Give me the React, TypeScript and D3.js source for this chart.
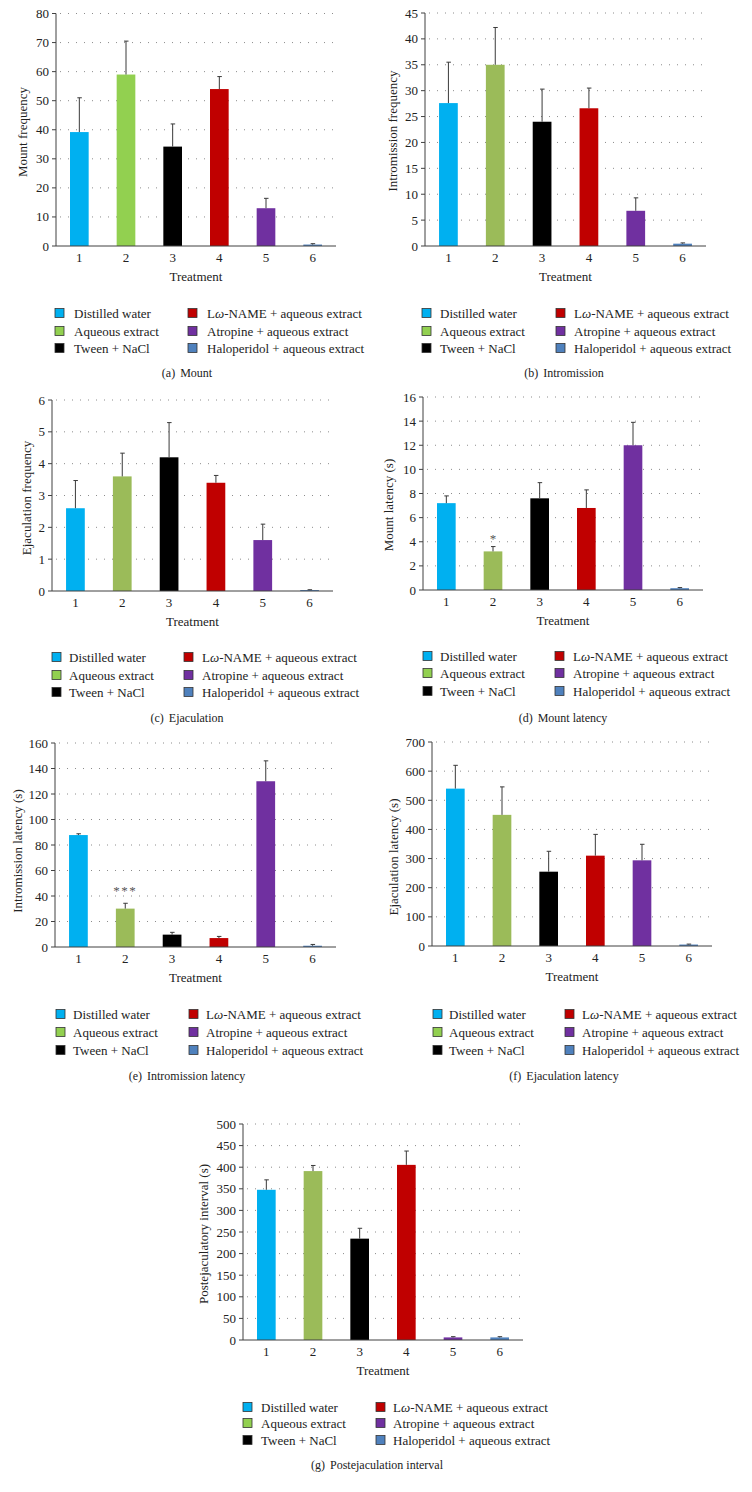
import React from "react";
import * as d3 from "d3";

// ---------- DATA ----------
const treatments = ["1", "2", "3", "4", "5", "6"];
const groups = [
  "Distilled water",
  "Aqueous extract",
  "Tween + NaCl",
  "Lω-NAME + aqueous extract",
  "Atropine + aqueous extract",
  "Haloperidol + aqueous extract",
];

const mountFreq = [39.2, 59, 34.2, 54, 13, 0.5];
const mountFreqErr = [11.8, 11.5, 7.8, 4.3, 3.4, 0.3];

const intromFreq = [27.6, 35, 24, 26.6, 6.8, 0.45];
const intromFreqErr = [7.9, 7.2, 6.3, 3.9, 2.5, 0.15];

const ejacFreq = [2.6, 3.6, 4.2, 3.4, 1.6, 0.03];
const ejacFreqErr = [0.87, 0.73, 1.09, 0.23, 0.5, 0.01];

const mountLat = [7.2, 3.2, 7.6, 6.8, 12, 0.15];
const mountLatErr = [0.6, 0.4, 1.3, 1.5, 1.9, 0.05];

const intromLat = [87.8, 30.1, 9.7, 7, 130, 1];
const intromLatErr = [1, 4.2, 1.8, 1.3, 16, 1];

const ejacLat = [540, 450, 255, 310, 294, 5];
const ejacLatErr = [80, 96, 70, 73, 55, 1.5];

const postEjac = [347.7, 391, 234.6, 405.4, 6, 6];
const postEjacErr = [23, 13, 24, 32, 1.7, 1.7];

const ticksA = [0, 10, 20, 30, 40, 50, 60, 70, 80];
const ticksB = [0, 5, 10, 15, 20, 25, 30, 35, 40, 45];
const ticksC = [0, 1, 2, 3, 4, 5, 6];
const ticksD = [0, 2, 4, 6, 8, 10, 12, 14, 16];
const ticksE = [0, 20, 40, 60, 80, 100, 120, 140, 160];
const ticksF = [0, 100, 200, 300, 400, 500, 600, 700];
const ticksG = [0, 50, 100, 150, 200, 250, 300, 350, 400, 450, 500];

// ---------- STYLE ----------
const BLUE = "#00B0F0";
const GREEN_BRIGHT = "#92D050";
const GREEN = "#9BBB59";
const BLACK = "#000000";
const RED = "#C00000";
const PURPLE = "#7030A0";
const SLATE = "#4F81BD";
const colorsA = [BLUE, GREEN_BRIGHT, BLACK, RED, PURPLE, SLATE];
const colorsStd = [BLUE, GREEN, BLACK, RED, PURPLE, SLATE];
const legendColors = [BLUE, GREEN_BRIGHT, BLACK, RED, PURPLE, SLATE];

const FONT = "'Liberation Serif', 'Times New Roman', serif";
const AXIS = "#404040";

type Panel = {
  values: number[];
  errs: number[];
  ticks: number[];
  colors: string[];
  ylabel: string;
  caption: [string, string];
  ax: number; top: number; base: number; right: number;
  ylx: number; yly: number;
  rows: number[]; sw: number[]; tx: number[];
  capY: number; capX: number;
  stars?: { i: number; text: string; off: number };
};

const panels: Panel[] = [
  { values: mountFreq, errs: mountFreqErr, ticks: ticksA, colors: colorsA, ylabel: "Mount frequency", caption: ["(a)", "Mount"],
    ax: 56, top: 13.5, base: 246, right: 336, ylx: 22, yly: 132, rows: [313, 331, 348], sw: [55, 188], tx: [74, 207], capY: 373, capX: 187 },
  { values: intromFreq, errs: intromFreqErr, ticks: ticksB, colors: colorsStd, ylabel: "Intromission frequency", caption: ["(b)", "Intromission"],
    ax: 425, top: 13, base: 246, right: 706, ylx: 392, yly: 131, rows: [313, 331, 348], sw: [422, 556], tx: [440, 574], capY: 373, capX: 564 },
  { values: ejacFreq, errs: ejacFreqErr, ticks: ticksC, colors: colorsStd, ylabel: "Ejaculation frequency", caption: ["(c)", "Ejaculation"],
    ax: 52, top: 400, base: 591, right: 333, ylx: 26, yly: 498, rows: [657, 675, 692], sw: [52, 184], tx: [69, 202], capY: 718, capX: 187 },
  { values: mountLat, errs: mountLatErr, ticks: ticksD, colors: colorsStd, ylabel: "Mount latency (s)", caption: ["(d)", "Mount latency"],
    ax: 423, top: 397, base: 590, right: 703, ylx: 388, yly: 505, rows: [656, 673, 691], sw: [423, 555], tx: [440, 573], capY: 718, capX: 563,
    stars: { i: 1, text: "*", off: 4 } },
  { values: intromLat, errs: intromLatErr, ticks: ticksE, colors: colorsStd, ylabel: "Intromission latency (s)", caption: ["(e)", "Intromission latency"],
    ax: 55, top: 743, base: 947, right: 336, ylx: 17, yly: 851, rows: [1014, 1032, 1050], sw: [56, 189], tx: [73, 206], capY: 1076, capX: 187,
    stars: { i: 1, text: "***", off: 8 } },
  { values: ejacLat, errs: ejacLatErr, ticks: ticksF, colors: colorsStd, ylabel: "Ejaculation latency (s)", caption: ["(f)", "Ejaculation latency"],
    ax: 432, top: 742, base: 946, right: 712, ylx: 393, yly: 857, rows: [1014, 1032, 1050], sw: [433, 565], tx: [449, 582], capY: 1076, capX: 564 },
  { values: postEjac, errs: postEjacErr, ticks: ticksG, colors: colorsStd, ylabel: "Postejaculatory interval (s)", caption: ["(g)", "Postejaculation interval"],
    ax: 243, top: 1124, base: 1340, right: 523, ylx: 203, yly: 1234, rows: [1407, 1423, 1440], sw: [243, 376], tx: [261, 393], capY: 1465, capX: 377 },
];

function LegendLabel({ name }: { name: string }) {
  if (name.startsWith("Lω")) {
    return (
      <>
        L<tspan fontStyle="italic">ω</tspan>-NAME + aqueous extract
      </>
    );
  }
  return <>{name}</>;
}

function PanelView({ p }: { p: Panel }) {
  const x = d3.scaleBand<string>().domain(treatments).range([p.ax, p.right]).paddingInner(0.6).paddingOuter(0.3);
  const y = d3.scaleLinear().domain([p.ticks[0], p.ticks[p.ticks.length - 1]]).range([p.base, p.top]);
  const bw = x.bandwidth();
  return (
    <g fontFamily={FONT}>
      {/* gridlines */}
      {p.ticks.slice(1).map((t) => (
        <line key={"g" + t} x1={p.ax + 4} x2={p.right} y1={y(t)} y2={y(t)} stroke="#8c8c8c" strokeWidth={1} strokeDasharray="1 7" />
      ))}
      {/* bars */}
      {p.values.map((v, i) => {
        const cx = (x(treatments[i]) as number) + bw / 2;
        const yt = y(v + p.errs[i]);
        return (
          <g key={"b" + i}>
            <rect x={x(treatments[i])} y={y(v)} width={bw} height={p.base - y(v)} fill={p.colors[i]} />
            <line x1={cx} x2={cx} y1={y(v)} y2={yt} stroke="#3a3a3a" strokeWidth={1} />
            <line x1={cx - 2} x2={cx + 2.5} y1={yt} y2={yt} stroke="#3a3a3a" strokeWidth={1} />
          </g>
        );
      })}
      {p.stars && (
        <text
          x={(x(treatments[p.stars.i]) as number) + bw / 2}
          y={y(p.values[p.stars.i] + p.errs[p.stars.i]) - p.stars.off}
          textAnchor="middle" fontSize={13} fill="#555" letterSpacing={p.stars.text.length > 1 ? 1.5 : 0}
        >
          {p.stars.text}
        </text>
      )}
      {/* axes */}
      <line x1={p.ax} x2={p.ax} y1={p.top} y2={p.base} stroke={AXIS} strokeWidth={1} />
      <line x1={p.ax} x2={p.right} y1={p.base} y2={p.base} stroke={AXIS} strokeWidth={1} />
      {p.ticks.map((t) => (
        <g key={"t" + t}>
          <line x1={p.ax - 4} x2={p.ax} y1={y(t)} y2={y(t)} stroke={AXIS} strokeWidth={1} />
          <text x={p.ax - 7} y={y(t)} dy="0.35em" textAnchor="end" fontSize={13} fill="#222">{t}</text>
        </g>
      ))}
      {treatments.map((t) => (
        <text key={"x" + t} x={(x(t) as number) + bw / 2} y={p.base + 11} dy="0.35em" textAnchor="middle" fontSize={13} fill="#222">{t}</text>
      ))}
      <text x={(p.ax + p.right) / 2} y={p.base + 30} dy="0.35em" textAnchor="middle" fontSize={13} fill="#222">Treatment</text>
      <text transform={`translate(${p.ylx},${p.yly}) rotate(-90)`} dy="0.35em" textAnchor="middle" fontSize={13} fill="#222">{p.ylabel}</text>
      {/* legend */}
      {groups.map((g, i) => {
        const col = i < 3 ? 0 : 1;
        const row = i % 3;
        const ry = p.rows[row];
        return (
          <g key={"l" + i}>
            <rect x={p.sw[col]} y={ry - 4.5} width={9} height={9} fill={legendColors[i]} stroke="#333" strokeWidth={0.8} />
            <text x={p.tx[col]} y={ry} dy="0.35em" fontSize={13} fill="#222"><LegendLabel name={g} /></text>
          </g>
        );
      })}
      <text x={p.capX} y={p.capY} dy="0.35em" textAnchor="middle" fontSize={12} fill="#222">
        {p.caption[0]}<tspan dx={5}>{p.caption[1]}</tspan>
      </text>
    </g>
  );
}

export default function App() {
  return (
    <svg width={752} height={1492} style={{ position: "absolute", left: 0, top: 0, background: "#fff" }}>
      <rect width={752} height={1492} fill="#fff" />
      {panels.map((p, i) => (
        <PanelView key={i} p={p} />
      ))}
    </svg>
  );
}
